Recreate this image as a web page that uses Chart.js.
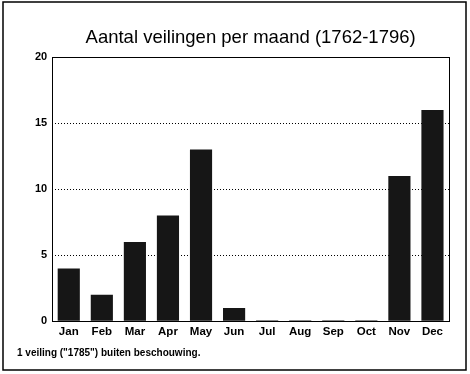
<!DOCTYPE html>
<html>
<head>
<meta charset="utf-8">
<script src="https://cdn.jsdelivr.net/npm/chart.js@4/dist/chart.umd.min.js"></script>
<style>
  html, body { margin: 0; padding: 0; background: #fff; }
  #wrap { width: 470px; height: 374px; }
</style>
</head>
<body>
<div id="wrap"><canvas id="c" width="470" height="374"></canvas></div>
<script>
// data
const months = ['Jan', 'Feb', 'Mar', 'Apr', 'May', 'Jun', 'Jul', 'Aug', 'Sep', 'Oct', 'Nov', 'Dec'];
const auctions = [4, 2, 6, 8, 13, 1, 0, 0, 0, 0, 11, 16];
const yTicks = [0, 5, 10, 15, 20];
const titleText = 'Aantal veilingen per maand (1762-1796)';
const footnote = '1 veiling ("1785") buiten beschouwing.';

const FONT = "'Liberation Sans', Arial, sans-serif";

// frame around the plot, outer frame and footnote
const framePlugin = {
  id: 'frame',
  afterDraw(chart) {
    const { ctx, chartArea: a } = chart;
    ctx.save();
    ctx.strokeStyle = '#000';
    ctx.lineWidth = 1;
    ctx.strokeRect(Math.round(a.left) + 0.5, Math.round(a.top) + 0.5,
      Math.round(a.right - a.left), Math.round(a.bottom - a.top));
    ctx.lineWidth = 1.5;
    ctx.strokeRect(3, 2, 463, 368);
    ctx.fillStyle = '#000';
    ctx.font = `bold 10px ${FONT}`;
    ctx.textBaseline = 'middle';
    ctx.fillText(footnote, 17, 353);
    ctx.restore();
  }
};

new Chart(document.getElementById('c'), {
  type: 'bar',
  data: {
    labels: months,
    datasets: [{
      data: auctions,
      backgroundColor: '#161616',
      borderColor: '#000',
      borderWidth: 0,
      minBarLength: 1,
      categoryPercentage: 0.67,
      barPercentage: 1,
    }]
  },
  options: {
    responsive: false,
    animation: false,
    devicePixelRatio: 1,
    layout: { padding: { left: 30, right: 21, top: 0, bottom: 31 } },
    plugins: {
      legend: { display: false },
      tooltip: { enabled: false },
      title: {
        display: true,
        fullSize: false,
        text: titleText,
        color: '#000',
        font: { family: FONT, size: 18.5, weight: 'normal' },
        padding: { top: 27, bottom: 8 }
      }
    },
    scales: {
      x: {
        grid: { display: false, drawTicks: false },
        border: { display: false },
        ticks: { color: '#000', font: { family: FONT, size: 11.5, weight: 'bold' }, padding: 4 }
      },
      y: {
        min: 0,
        max: 20,
        afterBuildTicks: (axis) => { axis.ticks = yTicks.map(v => ({ value: v })); },
        grid: {
          color: (c) => (c.tick && (c.tick.value === 0 || c.tick.value === 20)) ? 'rgba(0,0,0,0)' : '#000',
          lineWidth: 1,
          drawTicks: false
        },
        border: { display: false, dash: [1, 2] },
        ticks: { color: '#000', font: { family: FONT, size: 11, weight: 'bold' }, padding: 5 }
      }
    }
  },
  plugins: [framePlugin]
});
</script>
</body>
</html>
